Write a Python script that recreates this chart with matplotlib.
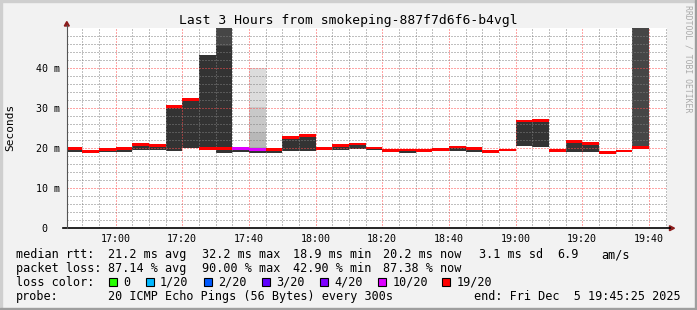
import datetime as dt

import matplotlib
matplotlib.use("Agg")
import matplotlib.pyplot as plt
import matplotlib.dates as mdates
from matplotlib.patches import Rectangle, Polygon
from matplotlib.ticker import FuncFormatter, FixedLocator
import numpy as np

W, H = 697, 310
MONO = "DejaVu Sans Mono"

title = "Last 3 Hours from smokeping-887f7d6f6-b4vgl"
t_start = dt.datetime(2025, 12, 5, 16, 45, 25)
t_end = dt.datetime(2025, 12, 5, 19, 45, 25)
first_slot = dt.datetime(2025, 12, 5, 16, 45)
step = dt.timedelta(minutes=5)

# one value per 5 minute step, 16:45 .. 19:35
median = [19.8, 19.2, 19.6, 19.9, 20.9, 20.7, 30.4, 32.2, 19.9, 19.8,
          19.8, 19.6, 19.6, 22.7, 23.2, 19.9, 20.7, 21.0, 20.0, 19.4,
          19.5, 19.4, 19.7, 20.25, 19.8, 19.2, 19.5, 26.75, 26.95, 19.45,
          21.6, 21.2, 18.9, 19.25, 20.2]
smoke_lo = [19.1, 19.2, 19.1, 19.1, 19.5, 19.5, 19.3, 19.9, 19.9, 18.8,
            19.1, 18.8, 18.8, 19.3, 19.3, 19.9, 19.6, 19.8, 19.5, 19.4,
            18.75, 19.4, 19.7, 19.25, 19.05, 19.2, 19.5, 20.6, 20.3, 19.3,
            19.0, 19.0, 18.9, 19.25, 20.2]
smoke_hi = [19.8, 19.2, 19.6, 19.9, 20.9, 20.7, 30.4, 32.2, 43.25, 45.5,
            19.8, 19.6, 19.6, 22.7, 23.2, 19.9, 20.7, 21.0, 20.0, 19.4,
            19.5, 19.4, 19.7, 20.25, 19.8, 19.2, 19.5, 26.75, 26.95, 19.45,
            21.6, 21.2, 18.9, 19.25, 20.2]
loss = ["19/20"] * 10 + ["10/20"] * 2 + ["19/20"] * 23

# lighter smoke above the plot top
upper_slot = [9, 34]
upper_lo = [45.5, 20.2]
upper_hi = [60, 60]

# sparse smoke of the 17:40 step
sparse_slot = 11
sparse_edges = [19.6, 20.3, 24.1, 30.2, 40.1]

loss_labels = ["0", "1/20", "2/20", "3/20", "4/20", "10/20", "19/20"]
loss_colors = ["#26ff00", "#00b8ff", "#0059ff", "#5e00ff", "#7e00ff", "#dd00ff", "#ff0000"]

stats_rtt = ["21.2 ms avg", "32.2 ms max", "18.9 ms min", "20.2 ms now", "3.1 ms sd", "6.9", "am/s"]
stats_loss = ["87.14 % avg", "90.00 % max", "42.90 % min", "87.38 % now"]
probe = "20 ICMP Echo Pings (56 Bytes) every 300s"
end_text = "end: Fri Dec  5 19:45:25 2025"


def fx(px):
    return px / W


def fy(py):
    return 1 - py / H


fig = plt.figure(figsize=(W / 100, H / 100), dpi=100, facecolor="#f2f2f2")
ax = fig.add_axes([fx(67), fy(228), 600 / W, 200 / H])
ax.set_facecolor("white")

slots = [first_slot + k * step for k in range(len(median))]
x0 = mdates.date2num(slots)
wd = 5 / 1440
color_of = dict(zip(loss_labels, loss_colors))

med = np.array(median)
lo = np.array(smoke_lo)
hi = np.array(smoke_hi)

ax.bar(x0, hi - lo, bottom=lo, width=wd, align="edge", color="#333333",
       linewidth=0, zorder=1)
ax.bar(x0[upper_slot], np.array(upper_hi) - np.array(upper_lo), bottom=upper_lo,
       width=wd, align="edge", color="#464646", linewidth=0, zorder=1)
shades = ["#a8a8a8", "#b8b8b8", "#c8c8c8", "#dcdcdc"]
for a, b, c in zip(sparse_edges[:-1], sparse_edges[1:], shades):
    ax.bar(x0[sparse_slot], b - a, bottom=a, width=wd, align="edge", color=c,
           linewidth=0, zorder=1)

ax.bar(x0, 0.7, bottom=med - 0.35, width=wd, align="edge",
       color=[color_of[l] for l in loss], linewidth=0, zorder=3)

ax.set_xlim(mdates.date2num(t_start), mdates.date2num(t_end))
ax.set_ylim(0, 50)

ax.xaxis.set_major_locator(mdates.MinuteLocator(byminute=[0, 20, 40]))
ax.xaxis.set_minor_locator(mdates.MinuteLocator(byminute=range(0, 60, 5)))
ax.xaxis.set_major_formatter(mdates.DateFormatter("%H:%M"))
ax.yaxis.set_major_locator(FixedLocator([0, 10, 20, 30, 40]))
ax.yaxis.set_minor_locator(FixedLocator([v for v in range(2, 50, 2) if v % 10]))
ax.yaxis.set_major_formatter(FuncFormatter(lambda v, p: "0  " if v == 0 else f"{v:.0f} m"))

ax.set_axisbelow(False)
ax.grid(which="minor", color=(0.5, 0.5, 0.5, 0.22), linewidth=0.72,
        linestyle=(0, (1, 2)))
ax.grid(which="major", color=(1.0, 0.3, 0.3, 0.38), linewidth=0.72,
        linestyle=(0, (1, 2)))

for s in ax.spines.values():
    s.set_visible(False)
ax.tick_params(which="both", length=0, labelsize=7.2)
ax.tick_params(axis="y", pad=5)
ax.tick_params(axis="x", pad=4)
for lbl in ax.get_xticklabels() + ax.get_yticklabels():
    lbl.set_family(MONO)

# axis lines and arrows
fig.add_artist(plt.Line2D([fx(63), fx(670)], [fy(228.3), fy(228.3)], color="black",
                          linewidth=1.2))
fig.add_artist(plt.Line2D([fx(66.8), fx(66.8)], [fy(228), fy(25)], color="#555555",
                          linewidth=0.8))
fig.add_artist(Polygon([[fx(64.3), fy(26)], [fx(69.3), fy(26)], [fx(66.8), fy(21.5)]],
                       closed=True, color="#8c1c1c", transform=fig.transFigure))
fig.add_artist(Polygon([[fx(669.5), fy(225.7)], [fx(669.5), fy(230.7)], [fx(674.5), fy(228.2)]],
                       closed=True, color="#8c1c1c", transform=fig.transFigure))

# frame shading
fig.add_artist(Rectangle((0, fy(2)), 1, 2 / H, color="#cfcfcf", transform=fig.transFigure))
fig.add_artist(Rectangle((0, 0), 2 / W, 1, color="#cfcfcf", transform=fig.transFigure))
fig.add_artist(Rectangle((0, 0), 1, 2 / H, color="#9e9e9e", transform=fig.transFigure))
fig.add_artist(Rectangle((fx(695), 0), 2 / W, 1, color="#9e9e9e", transform=fig.transFigure))

fig.text(fx(348), fy(20.5), title, family=MONO, size=9.35, ha="center", va="center")
fig.text(fx(10.5), fy(127), "Seconds", family=MONO, size=8, rotation=90,
         ha="center", va="center")
fig.text(fx(688), fy(59), "RRDTOOL / TOBI OETIKER", family=MONO, size=5.9,
         rotation=270, ha="center", va="center", color="#aaaaaa")

# legend block
LS = 8.45
row_y = [254.5, 268.5, 282.3, 296.5]
fig.text(fx(16), fy(row_y[0]), "median rtt:", family=MONO, size=LS, va="center")
for s, px in zip(stats_rtt, [107.6, 202, 293, 383, 479, 557, 601]):
    fig.text(fx(px), fy(row_y[0]), s, family=MONO, size=LS, va="center")
fig.text(fx(16), fy(row_y[1]), "packet loss:", family=MONO, size=LS, va="center")
for s, px in zip(stats_loss, [107.6, 202, 293, 383]):
    fig.text(fx(px), fy(row_y[1]), s, family=MONO, size=LS, va="center")
fig.text(fx(16), fy(row_y[2]), "loss color:", family=MONO, size=LS, va="center")
box_x = [108.5, 145.5, 203.5, 262, 319.5, 378, 442]
for lab, col, bx in zip(loss_labels, loss_colors, box_x):
    fig.add_artist(Rectangle((fx(bx), fy(row_y[2] + 4)), 8 / W, 8 / H, facecolor=col,
                             edgecolor="black", linewidth=0.8, transform=fig.transFigure))
    fig.text(fx(bx + 14.5), fy(row_y[2]), lab, family=MONO, size=LS, va="center")
fig.text(fx(16), fy(row_y[3]), "probe:", family=MONO, size=LS, va="center")
fig.text(fx(107.6), fy(row_y[3]), probe, family=MONO, size=LS, va="center")
fig.text(fx(681), fy(row_y[3]), end_text, family=MONO, size=LS, va="center", ha="right")

fig.savefig("out.png", dpi=100, facecolor=fig.get_facecolor())
